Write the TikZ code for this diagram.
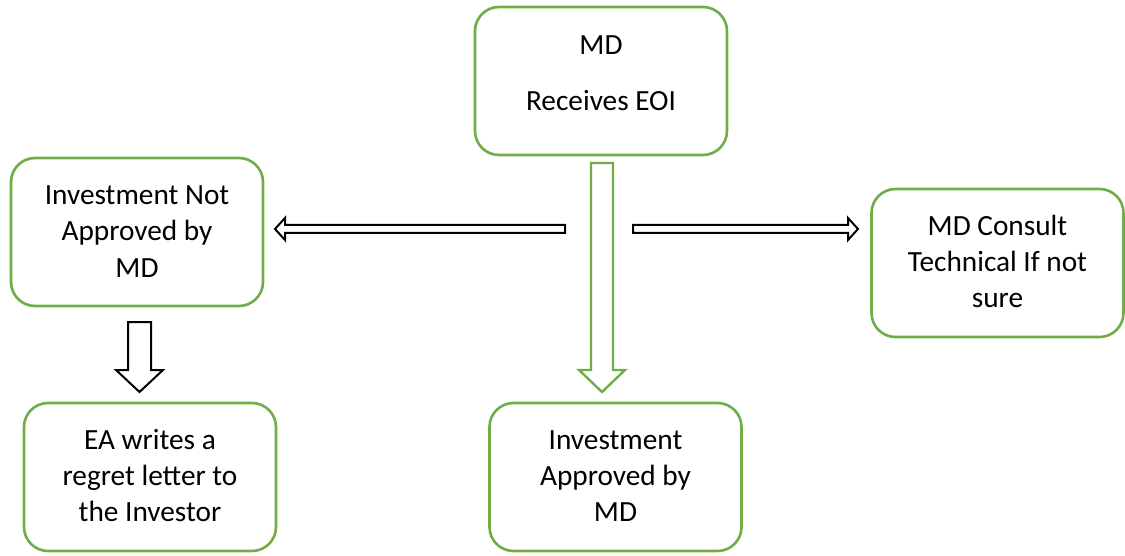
\documentclass[tikz,border=0pt]{standalone}
\usepackage{fontspec}
\setmainfont{Carlito}
\definecolor{boxgreen}{RGB}{112,173,71}
\begin{document}
\begin{tikzpicture}[x=1pt,y=-1pt,
  box/.style={draw=boxgreen,line width=2.6pt,rounded corners=24pt,fill=white,minimum width=252pt,minimum height=148pt,inner sep=0pt},
  txt/.style={anchor=base,inner sep=0pt,font=\fontsize{29.3}{36}\selectfont},
  blockarrow/.style={draw=black,line width=2pt,fill=white,line join=miter},
  greenarrow/.style={draw=boxgreen,line width=2.4pt,fill=white,line join=miter}]
\useasboundingbox (0,0) rectangle (1125,556);
% boxes
\node[box] (top) at (601,81) {};
\node[box] (left) at (137,232) {};
\node[box] (right) at (997.5,263) {};
\node[box] (bl) at (150,477) {};
\node[box] (bc) at (615.5,477) {};
% texts
\node[txt] (t1) at (601,54.5) {MD};
\node[txt] (t2) at (601,110.5) {Receives EOI};
\node[txt] (l1) at (137,204.5) {Investment Not};
\node[txt] (l2) at (137,240.5) {Approved by};
\node[txt] (l3) at (137,277) {MD};
\node[txt] (r1) at (997.5,235.5) {MD Consult};
\node[txt] (r2) at (997.5,271.5) {Technical If not};
\node[txt] (r3) at (997.5,307.5) {sure};
\node[txt] (b1) at (150,449.5) {EA writes a};
\node[txt] (b2) at (150,485.5) {regret letter to};
\node[txt] (b3) at (150,521.5) {the Investor};
\node[txt] (c1) at (615.5,449.5) {Investment};
\node[txt] (c2) at (615.5,485.5) {Approved by};
\node[txt] (c3) at (615.5,521.5) {MD};
% arrows
\draw[greenarrow] (591,163) -- (613,163) -- (613,370) -- (625,370) -- (602,392) -- (579,370) -- (591,370) -- cycle;
\draw[blockarrow] (565,225) -- (565,233) -- (285,233) -- (285,240) -- (275,229) -- (285,218) -- (285,225) -- cycle;
\draw[blockarrow] (633,225) -- (633,233) -- (848,233) -- (848,240) -- (858,229) -- (848,218) -- (848,225) -- cycle;
\draw[blockarrow] (128,322) -- (151,322) -- (151,370) -- (163,370) -- (139.5,392) -- (116,370) -- (128,370) -- cycle;
\end{tikzpicture}
\end{document}
